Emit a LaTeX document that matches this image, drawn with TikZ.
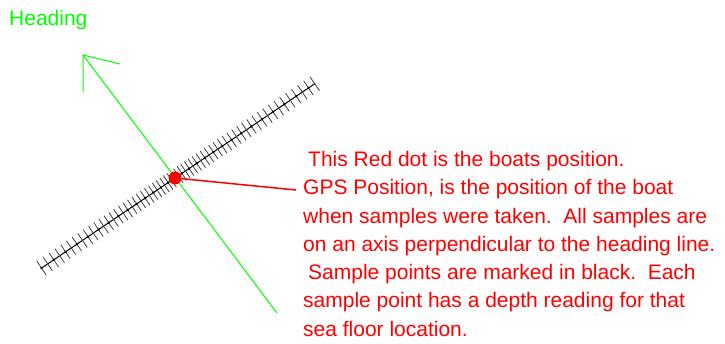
\documentclass[tikz,border=0pt]{standalone}
\usepackage{fontspec}
\setmainfont{Liberation Sans}
\definecolor{hdggreen}{RGB}{0,255,0}
\definecolor{boatred}{RGB}{255,0,0}
\tikzset{
  heading/.style={draw=hdggreen, line width=1pt},
  sample/.style={draw=black!75, line width=0.8pt},
  notetext/.style={text=boatred, font=\fontsize{21}{28.3}\selectfont, inner sep=0pt},
}
\begin{document}
\begin{tikzpicture}[x=1pt, y=-1pt]
\useasboundingbox (0,0) rectangle (725,343);
% Axe des echantillons
\begin{scope}[shift={(175,178)}, rotate=34]
\draw[black, line width=1pt] (-161,0) -- (169,0);
\foreach \k in {1,...,29}{
  \pgfmathsetmacro{\t}{4*\k+0.0625*\k*\k}
  \draw[sample] (\t,-8.5) -- (\t,8.5);
  \ifnum\k<29 \draw[sample] (-\t,-8.5) -- (-\t,8.5); \fi
  \ifodd\k \else
    \fill (\t,0) circle (1.4);
    \fill (-\t,0) circle (1.4);
  \fi
}
\end{scope}
% Cap
\node[notetext, text=hdggreen, anchor=base west] (title) at (9,25) {Heading};
\coordinate (bow) at (83,55);
\coordinate (stern) at (277,313);
\draw[heading] (stern) -- (bow);
\draw[heading] (83,92) -- (bow) -- (120,64);
% Position du bateau
\node[circle, fill=boatred, inner sep=0pt, minimum size=13pt] (boat) at (175,178) {};
\node[notetext, anchor=north west, align=left] (note) at (303,151) {%
\hspace*{5pt}This Red dot is the boats position.\\
GPS Position, is the position of the boat\\
when samples were taken.\ \ All samples are\\
on an axis perpendicular to the heading line.\\
\hspace*{5pt}Sample points are marked in black.\ \ Each\\
sample point has a depth reading for that\\
sea floor location.};
\coordinate (gps) at (296,190);
\draw[boatred, line width=1.5pt] (boat) -- (gps);
\end{tikzpicture}
\end{document}
